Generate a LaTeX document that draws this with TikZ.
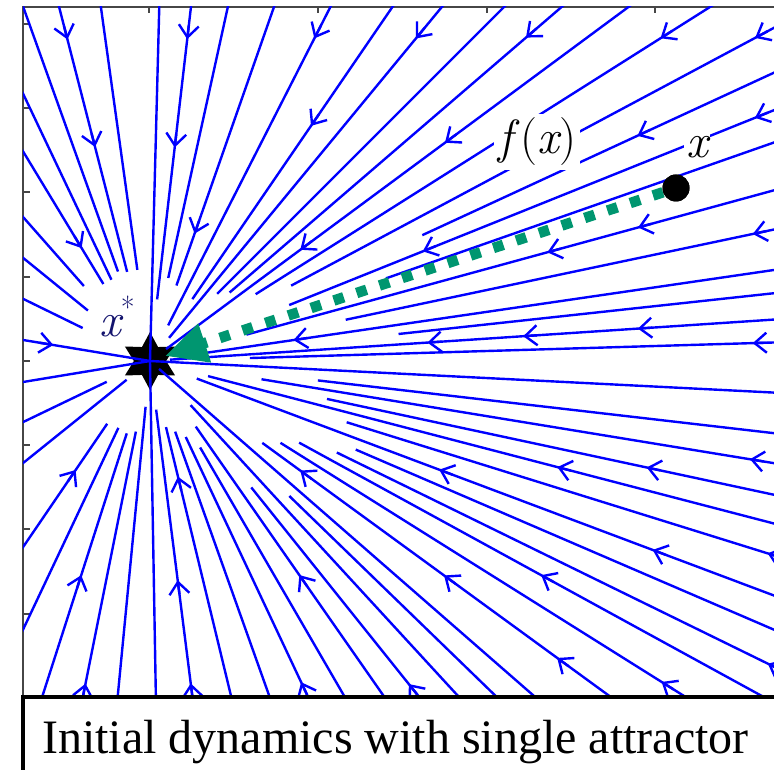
\documentclass[tikz,border=0pt]{standalone}
\usepackage{fontspec}
\setmainfont{Liberation Serif}
\newfontfamily\labelfont{Latin Modern Roman}
\usetikzlibrary{arrows.meta,shapes.geometric,calc,positioning}
\definecolor{streamblue}{RGB}{0,0,255}
\definecolor{axisgray}{RGB}{70,70,70}
\definecolor{flowgreen}{RGB}{0,150,112}
\definecolor{starnavy}{RGB}{20,20,110}
\newcommand{\vx}{{\itshape x}}

\begin{document}
\begin{tikzpicture}[
  x=1pt, y=1pt,
  stream/.style={draw=streamblue,line width=2.4pt},
  streamtip/.style={stream,-{Straight Barb[length=12pt,width=20pt]}},
  axisline/.style={draw=axisgray,line width=1.6pt},
  attractor/.style={star,star points=6,star point ratio=1.8,fill=black,
    minimum size=58pt,inner sep=0pt},
  dotnode/.style={circle,fill=black,minimum size=27pt,inner sep=0pt},
  lbl/.style={fill=white,inner sep=4pt,font=\labelfont\fontsize{48}{52}\selectfont},
  flowarrow/.style={draw=flowgreen,line width=10.5pt,dash pattern=on 10.5pt off 13.5pt,
    -{Triangle[length=42pt,width=38pt]},shorten >=-6pt},
  capbox/.style={draw=black,fill=white,line width=4pt},
]
\useasboundingbox (0,0) rectangle (774,769);

% axes
\draw[axisline] (23,74) -- (23,762) -- (780,762);
\foreach \ty in {745,661,577,492,408,324,240,155}
  \draw[axisline] (23,\ty) -- ++(7,0);
\foreach \tx in {149,318,487,655}
  \draw[axisline] (\tx,762) -- ++(0,-6);

\node[attractor] (attr) at (150,408) {};

% streamlines
\begin{scope}
\clip (23,74) rectangle (774,762);
\foreach \ang/\rin in {109.7/95, 104.4/92, 97.9/92, 88.5/0, 83.4/62, 77.6/85,
    70.7/80, 63.0/40, 55.6/75, 50.5/30, 45.0/95, 40.7/105, 36.5/20, 32.3/125,
    28.1/160, 24.8/300, 21.9/150, 19.3/250, 15.3/100, 11.9/200, 8.3/40,
    6.2/250, 3.8/20, 1.7/100, -2.9/0, -6.6/169, -9.3/113, -12.1/181,
    -14.6/60, -17.3/206, -20.6/50, -23.3/224, -26.1/208, -28.7/170,
    -32.1/154, -36.1/139, -41.1/12, -44.1/194, -47.4/60, -51.3/162,
    -55.1/80, -59.9/100, -64.8/84, -70.4/75, -76.4/68, -82.8/49, -89.0/0,
    -95.5/46, -101.3/72, -107.8/76, -115.3/74, -124.3/76, -141.2/30,
    -154.3/48, -170.6/0, 170.6/0, 153.9/75, 140.9/80, 131.4/100,
    121.2/90, 115.4/90}
  \draw[stream] ($(attr)+(\ang:\rin)$) -- ($(attr)+(\ang:1100)$);
\foreach \ang/\rad in {104.4/332, 104.4/221, 83.4/324, 83.4/215, 70.7/135,
    63.0/362, 55.6/285, 50.5/418, 40.7/496, 36.5/367, 36.5/187, 32.3/604,
    28.1/686, 24.8/537, 21.9/652, 21.9/294, 15.3/506, 15.3/412, 11.9/616,
    8.3/145, 3.8/278, 3.8/374, 3.8/489, 1.7/603, -9.3/608, -14.6/421,
    -12.1/508, -17.3/647, -28.7/446, -20.6/537, -20.6/309, -26.1/688,
    -36.1/504, -36.1/364, -36.1/186, -32.1/604, -51.3/414, -55.1/261,
    -64.8/355, -76.4/119, -82.8/221, -82.8/325, -101.3/329, -107.8/225,
    -124.3/132, 121.2/132, 170.6/98}
  \draw[streamtip] ($(attr)+(\ang:{\rad+14})$) -- ($(attr)+(\ang:\rad)$);
\end{scope}

% labels
\node[lbl,text=starnavy] (xstar) at (117,452)
  {\vx\raisebox{18pt}{\fontsize{30}{30}\selectfont*}};
\node[lbl] (fxlabel) at (537,627) {{\itshape f}\,(\vx)};
\node[lbl,inner sep=2pt] (xlabel) at (697,622) {\vx};

\node[dotnode] (xdot) at (676,581) {};
\draw[flowarrow] (xdot) -- (attr);
\node[dotnode] at (xdot) {};

% caption
\draw[capbox] (23,-30) rectangle (800,72);
\node[anchor=base west,inner sep=0pt,font=\fontsize{48}{54}\selectfont]
  (caption) at (42,16) {Initial dynamics with single attractor};
\end{tikzpicture}
\end{document}
